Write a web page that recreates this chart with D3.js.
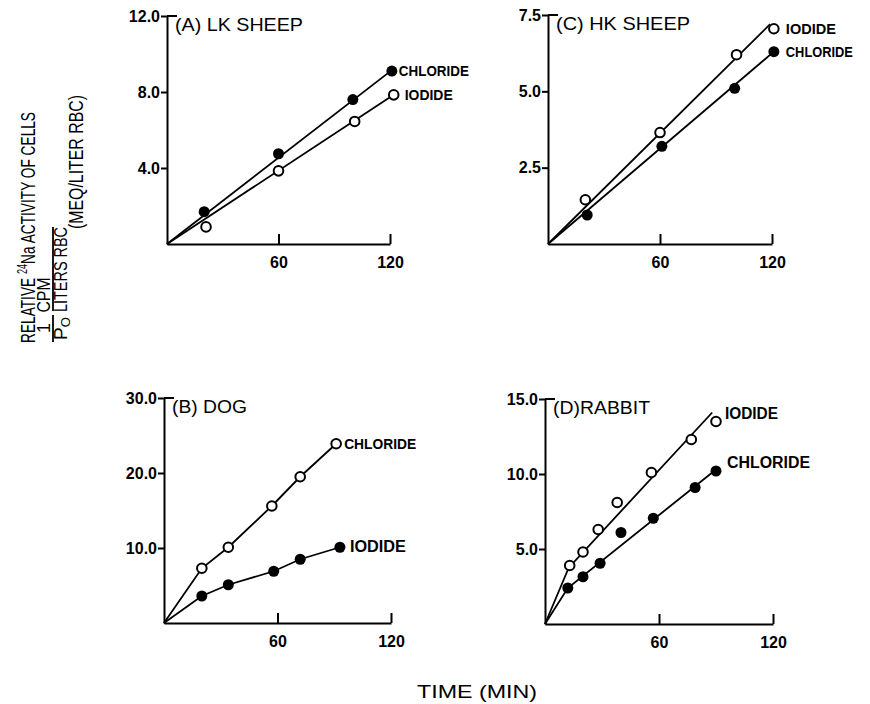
<!DOCTYPE html>
<html>
<head>
<meta charset="utf-8">
<script src="https://cdn.jsdelivr.net/npm/d3@7"></script>
<style>
body { margin: 0; background: #fff; }
svg { display: block; font-family: 'Liberation Sans', Arial, sans-serif; }
</style>
</head>
<body>
<svg id="chart"></svg>
<script>
const w = 870, h = 704;

const xTicks = [60, 120];

// (A) LK sheep
const lkTicks = [4, 8, 12];
const lkChlorideTime = [20, 60, 100, 121], lkChlorideNa = [1.7, 4.75, 7.6, 9.1];
const lkIodideTime = [21, 60, 101, 122], lkIodideNa = [0.9, 3.85, 6.45, 7.85];
const lkChlorideFitTime = [0, 121], lkChlorideFitNa = [0, 9.15];
const lkIodideFitTime = [0, 122], lkIodideFitNa = [0, 7.85];

// (C) HK sheep
const hkTicks = [2.5, 5, 7.5];
const hkIodideTime = [20, 60, 101, 121], hkIodideNa = [1.45, 3.65, 6.2, 7.05];
const hkChlorideTime = [21, 61, 100, 121], hkChlorideNa = [0.95, 3.2, 5.1, 6.3];
const hkIodideFitTime = [0, 119], hkIodideFitNa = [0, 7.2];
const hkChlorideFitTime = [0, 121], hkChlorideFitNa = [0, 6.3];

// (B) dog
const dogTicks = [10, 20, 30];
const dogChlorideTime = [20, 34, 57, 72, 91], dogChlorideNa = [7.3, 10.1, 15.6, 19.5, 23.9];
const dogIodideTime = [20, 34, 58, 72, 93], dogIodideNa = [3.6, 5.1, 6.9, 8.5, 10.1];
const dogChlorideFitTime = [0, 20, 34, 57, 72, 91], dogChlorideFitNa = [0, 7.3, 10.1, 15.6, 19.5, 23.9];
const dogIodideFitTime = [0, 20, 34, 58, 72, 93], dogIodideFitNa = [0, 3.6, 5.1, 6.9, 8.5, 10.1];

// (D) rabbit
const rabbitTicks = [5, 10, 15];
const rabbitIodideTime = [13, 20, 28, 38, 56, 77, 90], rabbitIodideNa = [3.9, 4.8, 6.3, 8.1, 10.1, 12.3, 13.5];
const rabbitChlorideTime = [12, 20, 29, 40, 57, 79, 90], rabbitChlorideNa = [2.4, 3.15, 4.05, 6.1, 7.05, 9.1, 10.2];
const rabbitIodideFitTime = [0, 12.5, 88], rabbitIodideFitNa = [0, 3.75, 14.1];
const rabbitChlorideFitTime = [0, 12, 91], rabbitChlorideFitNa = [0, 2.4, 10.4];

const chart = d3.select('#chart')
    .attr('width', w)
    .attr('height', h);

const panels = [
    {
        title: '(A) LK SHEEP', titleLen: 128, left: 167, right: 390, top: 16, bottom: 244, yMax: 12, ticks: lkTicks,
        series: [
            {time: lkChlorideTime, na: lkChlorideNa, fitTime: lkChlorideFitTime, fitNa: lkChlorideFitNa, filled: true, label: 'CHLORIDE', len: 70, dx: 7, dy: 5, size: 15},
            {time: lkIodideTime, na: lkIodideNa, fitTime: lkIodideFitTime, fitNa: lkIodideFitNa, filled: false, label: 'IODIDE', len: 48, dx: 11, dy: 5, size: 15}
        ]
    },
    {
        title: '(C) HK SHEEP', titleLen: 134, left: 548, right: 772, top: 15, bottom: 244, yMax: 7.5, ticks: hkTicks,
        series: [
            {time: hkIodideTime, na: hkIodideNa, fitTime: hkIodideFitTime, fitNa: hkIodideFitNa, filled: false, label: 'IODIDE', len: 50, dx: 12, dy: 5, size: 15},
            {time: hkChlorideTime, na: hkChlorideNa, fitTime: hkChlorideFitTime, fitNa: hkChlorideFitNa, filled: true, label: 'CHLORIDE', len: 67, dx: 12, dy: 5, size: 15}
        ]
    },
    {
        title: '(B) DOG', titleLen: 75, left: 164, right: 391, top: 398, bottom: 623, yMax: 30, ticks: dogTicks,
        series: [
            {time: dogChlorideTime, na: dogChlorideNa, fitTime: dogChlorideFitTime, fitNa: dogChlorideFitNa, filled: false, label: 'CHLORIDE', len: 72, dx: 8, dy: 5, size: 15},
            {time: dogIodideTime, na: dogIodideNa, fitTime: dogIodideFitTime, fitNa: dogIodideFitNa, filled: true, label: 'IODIDE', len: 56, dx: 10, dy: 5, size: 16}
        ]
    },
    {
        title: '(D)RABBIT', titleLen: 97, left: 545, right: 773, top: 399, bottom: 624, yMax: 15, ticks: rabbitTicks,
        series: [
            {time: rabbitIodideTime, na: rabbitIodideNa, fitTime: rabbitIodideFitTime, fitNa: rabbitIodideFitNa, filled: false, label: 'IODIDE', len: 53, dx: 9, dy: -3, size: 16},
            {time: rabbitChlorideTime, na: rabbitChlorideNa, fitTime: rabbitChlorideFitTime, fitNa: rabbitChlorideFitNa, filled: true, label: 'CHLORIDE', len: 83, dx: 11, dy: -3, size: 16}
        ]
    }
];

const drawPanel = (p) => {
    const xScale = d3.scaleLinear().domain([0, 120]).range([p.left, p.right]);
    const yScale = d3.scaleLinear().domain([0, p.yMax]).range([p.bottom, p.top]);
    const g = chart.append('g');

    const xAxis = g.append('g')
        .attr('transform', `translate(0, ${p.bottom})`)
        .call(d3.axisBottom(xScale).tickValues(xTicks).tickSize(-10).tickSizeOuter(0).tickPadding(13));

    const yAxis = g.append('g')
        .attr('transform', `translate(${p.left}, 0)`)
        .call(d3.axisLeft(yScale).tickValues(p.ticks).tickSize(6).tickSizeOuter(0).tickPadding(1).tickFormat(d3.format('.1f')));

    [xAxis, yAxis].forEach(a => {
        a.attr('font-family', null).attr('font-size', 16).attr('font-weight', 'bold');
        a.selectAll('.domain, .tick line').attr('stroke', '#000').attr('stroke-width', 2);
        a.selectAll('text').attr('fill', '#000');
    });

    // little hook at the top of the y axis
    g.append('line')
        .attr('x1', p.left).attr('x2', p.left + 10)
        .attr('y1', yScale(p.yMax)).attr('y2', yScale(p.yMax))
        .attr('stroke', '#000').attr('stroke-width', 2);

    g.append('text')
        .attr('x', p.left + 8)
        .attr('y', p.top + 15)
        .attr('font-size', 18)
        .attr('textLength', p.titleLen)
        .attr('lengthAdjust', 'spacingAndGlyphs')
        .text(p.title);

    const line = d3.line()
        .x(d => xScale(d[0]))
        .y(d => yScale(d[1]));

    p.series.forEach(s => {
        g.append('path')
            .datum(d3.zip(s.fitTime, s.fitNa))
            .attr('d', line)
            .attr('fill', 'none')
            .attr('stroke', '#000')
            .attr('stroke-width', 1.8);

        const pts = d3.zip(s.time, s.na);
        g.selectAll(null)
            .data(pts)
            .enter()
            .append('circle')
            .attr('cx', d => xScale(d[0]))
            .attr('cy', d => yScale(d[1]))
            .attr('r', s.filled ? 5.5 : 4.8)
            .attr('fill', s.filled ? '#000' : '#fff')
            .attr('stroke', '#000')
            .attr('stroke-width', s.filled ? 0 : 2);

        const last = pts[pts.length - 1];
        g.append('text')
            .attr('x', xScale(last[0]) + s.dx)
            .attr('y', yScale(last[1]) + s.dy)
            .attr('font-size', s.size)
            .attr('font-weight', 'bold')
            .attr('textLength', s.len)
            .attr('lengthAdjust', 'spacingAndGlyphs')
            .text(s.label);
    });
};

panels.forEach(drawPanel);

// shared y axis title, rotated
const yLabel = chart.append('g')
    .attr('transform', 'translate(0, 343) rotate(-90)')
    .attr('font-size', 21);

const rel = yLabel.append('text')
    .attr('x', 0).attr('y', 35)
    .attr('textLength', 231)
    .attr('lengthAdjust', 'spacingAndGlyphs');
rel.append('tspan').text('RELATIVE ');
rel.append('tspan').attr('dy', -8).attr('font-size', 14).text('24');
rel.append('tspan').attr('dy', 8).text('Na ACTIVITY OF CELLS');

yLabel.append('text')
    .attr('x', 15).attr('y', 50)
    .attr('font-size', 18)
    .attr('text-anchor', 'middle')
    .text('1');

const po = yLabel.append('text')
    .attr('x', 3).attr('y', 67)
    .attr('font-size', 19);
po.append('tspan').text('P');
po.append('tspan').attr('dy', 3).attr('font-size', 13).text('O');

yLabel.append('text')
    .attr('x', 48).attr('y', 50)
    .attr('font-size', 18)
    .attr('text-anchor', 'middle')
    .attr('textLength', 35)
    .attr('lengthAdjust', 'spacingAndGlyphs')
    .text('CPM');

yLabel.append('text')
    .attr('x', 31).attr('y', 67)
    .attr('font-size', 19)
    .attr('textLength', 85)
    .attr('lengthAdjust', 'spacingAndGlyphs')
    .text('LITERS RBC');

yLabel.append('text')
    .attr('x', 114).attr('y', 83)
    .attr('font-size', 20)
    .attr('textLength', 134)
    .attr('lengthAdjust', 'spacingAndGlyphs')
    .text('(MEQ/LITER RBC)');

[[1, 28], [32, 116]].forEach(b => {
    yLabel.append('line')
        .attr('x1', b[0]).attr('x2', b[1])
        .attr('y1', 53).attr('y2', 53)
        .attr('stroke', '#000').attr('stroke-width', 1.8);
});

chart.append('text')
    .attr('x', 477)
    .attr('y', 698)
    .attr('text-anchor', 'middle')
    .attr('font-size', 19)
    .attr('textLength', 120)
    .attr('lengthAdjust', 'spacingAndGlyphs')
    .text('TIME (MIN)');
</script>
</body>
</html>
